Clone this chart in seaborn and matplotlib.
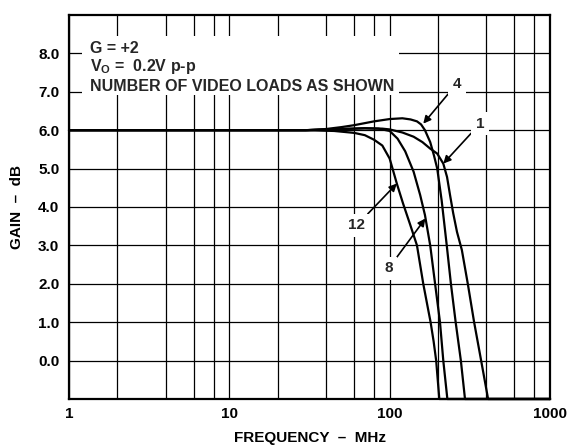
import pandas as pd
import seaborn as sns
import matplotlib.pyplot as plt
from matplotlib.ticker import FixedLocator, NullFormatter
from matplotlib.patches import Rectangle

# gain vs frequency, one curve per number of video loads
freq_1 = [1, 30, 50, 70, 90, 100, 120, 141, 160, 179, 198, 216, 228, 238, 249, 263, 282, 308, 336, 372, 395, 411, 1000]
gain_1 = [6.0, 6.0, 6.03, 6.05, 6.04, 6.02, 5.94, 5.83, 5.69, 5.52, 5.39, 5.13, 4.78, 4.31, 3.84, 3.35, 2.88, 1.97, 1.01, 0.0, -0.6, -1.0, -1.0]

freq_4 = [1, 30, 40, 50, 60, 80, 100, 120, 135, 148, 157, 166, 179, 189, 198, 211, 227, 241, 258, 278, 295, 1000]
gain_4 = [6.0, 6.0, 6.03, 6.08, 6.13, 6.23, 6.29, 6.31, 6.28, 6.23, 6.15, 6.0, 5.69, 5.34, 5.0, 4.17, 3.0, 2.0, 1.0, 0.0, -1.0, -1.0]

freq_8 = [1, 30, 50, 70, 85, 100, 112, 125, 141, 155, 166, 179, 192, 206, 216, 229, 1000]
gain_8 = [6.0, 6.0, 6.03, 6.05, 6.04, 5.98, 5.78, 5.45, 4.92, 4.31, 3.79, 3.0, 2.0, 1.0, 0.0, -1.0, -1.0]

freq_12 = [1, 30, 45, 60, 70, 80, 90, 100, 111, 121, 134, 148, 162, 174, 180, 188, 195, 204, 1000]
gain_12 = [6.0, 6.0, 5.98, 5.93, 5.87, 5.75, 5.6, 5.26, 4.6, 4.1, 3.55, 3.0, 2.0, 1.32, 1.0, 0.5, 0.0, -1.0, -1.0]

major_x = [1, 10, 100, 1000]
minor_x = [2, 4, 6, 8, 20, 40, 60, 80, 200, 400, 600, 800]
y_ticks = [0, 1, 2, 3, 4, 5, 6, 7, 8]

sns.set_theme(style='white')
plt.rcParams['font.family'] = ['Liberation Sans', 'DejaVu Sans']
plt.rcParams['mathtext.fontset'] = 'custom'
plt.rcParams['mathtext.rm'] = 'Liberation Sans:bold'
plt.rcParams['mathtext.it'] = 'Liberation Sans:bold'
plt.rcParams['mathtext.bf'] = 'Liberation Sans:bold'

frames = []
for n, f, g in [(1, freq_1, gain_1), (4, freq_4, gain_4), (8, freq_8, gain_8), (12, freq_12, gain_12)]:
    frames.append(pd.DataFrame({'freq': f, 'gain': g, 'loads': n}))
df = pd.concat(frames, ignore_index=True)

fig = plt.figure(figsize=(5.68, 4.46), dpi=100)
ax = fig.add_axes([0.1215, 0.1054, 0.8468, 0.861])

sns.lineplot(data=df, x='freq', y='gain', units='loads', estimator=None,
             color='black', lw=1.6, sort=False, ax=ax, zorder=3, clip_on=False)

ax.set_xscale('log')
ax.set_xlim(1, 1000)
ax.set_ylim(-1, 9)
ax.set_xticks(major_x)
ax.set_xticklabels([str(v) for v in major_x])
ax.xaxis.set_minor_locator(FixedLocator(minor_x))
ax.xaxis.set_minor_formatter(NullFormatter())
ax.set_yticks(y_ticks)
ax.set_yticklabels([f'{v:.1f}' for v in y_ticks])
ax.grid(True, which='both', color='black', lw=0.9)
ax.tick_params(which='both', length=0, labelsize=11, colors='black')
ax.tick_params(axis='y', pad=7)
ax.tick_params(axis='x', pad=6)
for lbl in ax.get_xticklabels() + ax.get_yticklabels():
    lbl.set_fontweight('bold')
for s in ax.spines.values():
    s.set_color('black')
    s.set_linewidth(1.6)

ax.set_xlabel('FREQUENCY  –  MHz', fontsize=11, fontweight='bold', color='black')
ax.set_ylabel('GAIN  –  dB', fontsize=11, fontweight='bold', color='black')
ax.xaxis.set_label_coords(0.5, -0.083)
ax.yaxis.set_label_coords(-0.094, 0.5)

# white block behind the notes
ax.add_patch(Rectangle((0.026, 0.792), 0.66, 0.153, transform=ax.transAxes,
                       facecolor='white', edgecolor='none', zorder=1.5))
tx = 0.0437
ax.text(tx, 0.913, 'G = +2', transform=ax.transAxes, fontsize=11.5, fontweight='bold', va='center', zorder=4)
ax.text(tx, 0.865, 'V$_{\\mathrm{O}}$ =  0.2V p-p', transform=ax.transAxes, fontsize=11.5, fontweight='bold', va='center', zorder=4)
ax.text(tx, 0.813, 'NUMBER OF VIDEO LOADS AS SHOWN', transform=ax.transAxes, fontsize=11.5, fontweight='bold', va='center', zorder=4)

arrow = dict(arrowstyle='-|>', color='black', lw=1.2, mutation_scale=11, shrinkA=0, shrinkB=0)
box = dict(boxstyle='square,pad=0.3', facecolor='white', edgecolor='none')
for txt, tip, pos in [('4', (162, 6.17), (262, 7.21)),
                      ('1', (216, 5.13), (366, 6.17)),
                      ('12', (110.8, 4.61), (62.3, 3.52)),
                      ('8', (167, 3.7), (98.4, 2.40))]:
    ax.annotate(txt, xy=tip, xytext=pos, fontsize=11, fontweight='bold',
                ha='center', va='center', bbox=box, arrowprops=arrow, zorder=5)

fig.savefig('out.png', dpi=100)
